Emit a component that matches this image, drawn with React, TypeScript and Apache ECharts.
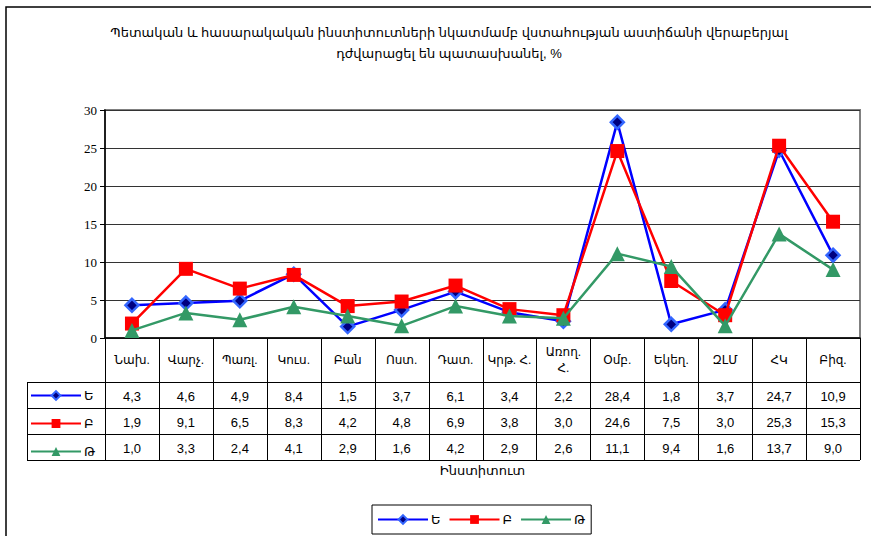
import React, { useEffect, useRef } from "react";
import * as echarts from "echarts";

const titleText = "Պետական և հասարակական ինստիտուտների նկատմամբ վստահության աստիճանի վերաբերյալ\nդժվարացել են պատասխանել, %";
const axisTitle = "Ինստիտուտ";
const categories = ["Նախ.", "Վարչ.", "Պառլ.", "Կուս.", "Բան", "Ոստ.", "Դատ.", "Կրթ. Հ.", "Առող.\nՀ.", "Օմբ.", "Եկեղ.", "ԶԼՄ", "ՀԿ", "Բիզ."];
const seriesNames = ["Ե", "Բ", "Թ"];
const valuesE = [4.3, 4.6, 4.9, 8.4, 1.5, 3.7, 6.1, 3.4, 2.2, 28.4, 1.8, 3.7, 24.7, 10.9];
const valuesB = [1.9, 9.1, 6.5, 8.3, 4.2, 4.8, 6.9, 3.8, 3.0, 24.6, 7.5, 3.0, 25.3, 15.3];
const valuesT = [1.0, 3.3, 2.4, 4.1, 2.9, 1.6, 4.2, 2.9, 2.6, 11.1, 9.4, 1.6, 13.7, 9.0];
const yTicks = { min: 0, max: 30, interval: 5 };

const SANS = "Arial, 'Liberation Sans', 'DejaVu Sans', sans-serif";
const SERIF = "'Liberation Serif', 'Times New Roman', serif";

const GRID = { left: 105, top: 110, width: 755, height: 228 };
const ROW_TOP = 382;
const ROW_H = 26;
const KEY_LEFT = 27;

export default function App() {
  const ref = useRef<HTMLDivElement>(null);

  useEffect(() => {
    if (!ref.current) return;
    const chart = echarts.init(ref.current, undefined, { renderer: "svg" });
    const allValues = [valuesE, valuesB, valuesT];
    const n = categories.length;
    const colW = GRID.width / n;
    const bottom = GRID.top + GRID.height;
    const tableBottom = ROW_TOP + ROW_H * allValues.length;
    const right = GRID.left + GRID.width;
    const fmt = (v: number) => v.toFixed(1).replace(".", ",");

    const graphics: any[] = [];
    graphics.push({
      type: "rect",
      shape: { x: 6, y: 7, width: 900, height: 600 },
      style: { fill: "none", stroke: "#000", lineWidth: 1.5 },
      silent: true,
    });
    for (let i = 0; i <= n; i++) {
      const x = Math.round(GRID.left + i * colW) + 0.5;
      graphics.push({
        type: "line",
        shape: { x1: x, y1: bottom, x2: x, y2: tableBottom },
        style: { stroke: "#000", lineWidth: 1 },
        silent: true,
      });
    }
    graphics.push({
      type: "line",
      shape: { x1: KEY_LEFT + 0.5, y1: ROW_TOP, x2: KEY_LEFT + 0.5, y2: tableBottom },
      style: { stroke: "#000", lineWidth: 1 },
      silent: true,
    });
    for (let r = 0; r <= allValues.length; r++) {
      const y = ROW_TOP + r * ROW_H + 0.5;
      graphics.push({
        type: "line",
        shape: { x1: KEY_LEFT, y1: y, x2: right, y2: y },
        style: { stroke: "#000", lineWidth: 1 },
        silent: true,
      });
    }
    categories.forEach((c, i) => {
      graphics.push({
        type: "text",
        x: GRID.left + (i + 0.5) * colW,
        y: (bottom + ROW_TOP) / 2,
        style: {
          text: c,
          fontFamily: SANS,
          fontSize: 12,
          fill: "#000",
          align: "center",
          verticalAlign: "middle",
          lineHeight: 16,
        },
        silent: true,
      });
    });
    allValues.forEach((arr, r) => {
      arr.forEach((v, i) => {
        graphics.push({
          type: "text",
          x: GRID.left + (i + 0.5) * colW,
          y: ROW_TOP + (r + 0.5) * ROW_H + 1,
          style: {
            text: fmt(v),
            fontFamily: SANS,
            fontSize: 13,
            fill: "#000",
            align: "center",
            verticalAlign: "middle",
          },
          silent: true,
        });
      });
    });
    graphics.push({
      type: "text",
      x: GRID.left + GRID.width / 2,
      y: 470,
      style: {
        text: axisTitle,
        fontFamily: SANS,
        fontSize: 13,
        fill: "#000",
        align: "center",
        verticalAlign: "middle",
      },
      silent: true,
    });

    const lineW = 2.5;
    chart.setOption({
      animation: false,
      backgroundColor: "#fff",
      title: {
        text: titleText,
        left: 444,
        top: 17,
        textAlign: "center",
        textStyle: {
          fontFamily: SANS,
          fontSize: 13,
          fontWeight: "normal",
          color: "#000",
          lineHeight: 21,
        },
      },
      grid: {
        left: GRID.left,
        top: GRID.top,
        width: GRID.width,
        height: GRID.height,
        show: true,
        borderColor: "#808080",
        borderWidth: 2,
        containLabel: false,
      },
      legend: [
        {
          data: seriesNames,
          left: 372,
          top: 505,
          orient: "horizontal",
          itemWidth: 50,
          itemHeight: 11,
          itemGap: 8,
          padding: [8, 6, 8, 5],
          borderColor: "#000",
          borderWidth: 1,
          textStyle: { fontFamily: SANS, fontSize: 13, color: "#000", padding: [0, 0, 0, -2] },
        },
        {
          data: seriesNames,
          left: 30,
          top: 389,
          orient: "vertical",
          itemWidth: 50,
          itemHeight: 11,
          itemGap: 15,
          padding: 0,
          textStyle: { fontFamily: SANS, fontSize: 13, color: "#000", padding: [0, 0, 0, -2] },
        },
      ],
      xAxis: {
        type: "category",
        data: categories,
        boundaryGap: true,
        axisLine: { show: true, lineStyle: { color: "#000", width: 1.5 } },
        axisTick: { show: false },
        axisLabel: { show: false },
        splitLine: { show: false },
      },
      yAxis: {
        type: "value",
        min: yTicks.min,
        max: yTicks.max,
        interval: yTicks.interval,
        axisLine: { show: true, lineStyle: { color: "#000", width: 1.5 } },
        axisTick: { show: true, length: 5, lineStyle: { color: "#000" } },
        axisLabel: { fontFamily: SERIF, fontSize: 13, color: "#000", margin: 8 },
        splitLine: { show: true, lineStyle: { color: "#333", width: 1 } },
      },
      series: [
        {
          name: seriesNames[0],
          type: "line",
          data: valuesE,
          symbol: "diamond",
          symbolSize: 13,
          lineStyle: { color: "#0000FF", width: lineW },
          itemStyle: { color: "#000080", borderColor: "#3366FF", borderWidth: 2.5 },
          z: 3,
        },
        {
          name: seriesNames[1],
          type: "line",
          data: valuesB,
          symbol: "rect",
          symbolSize: 14,
          lineStyle: { color: "#FF0000", width: lineW },
          itemStyle: { color: "#FF0000" },
          z: 4,
        },
        {
          name: seriesNames[2],
          type: "line",
          data: valuesT,
          symbol: "triangle",
          symbolSize: 15,
          lineStyle: { color: "#339966", width: lineW },
          itemStyle: { color: "#339966" },
          z: 5,
        },
      ],
      graphic: graphics,
    });

    return () => chart.dispose();
  }, []);

  return (
    <div
      ref={ref}
      style={{ position: "fixed", left: 0, top: 0, width: 871, height: 536, background: "#fff" }}
    />
  );
}
